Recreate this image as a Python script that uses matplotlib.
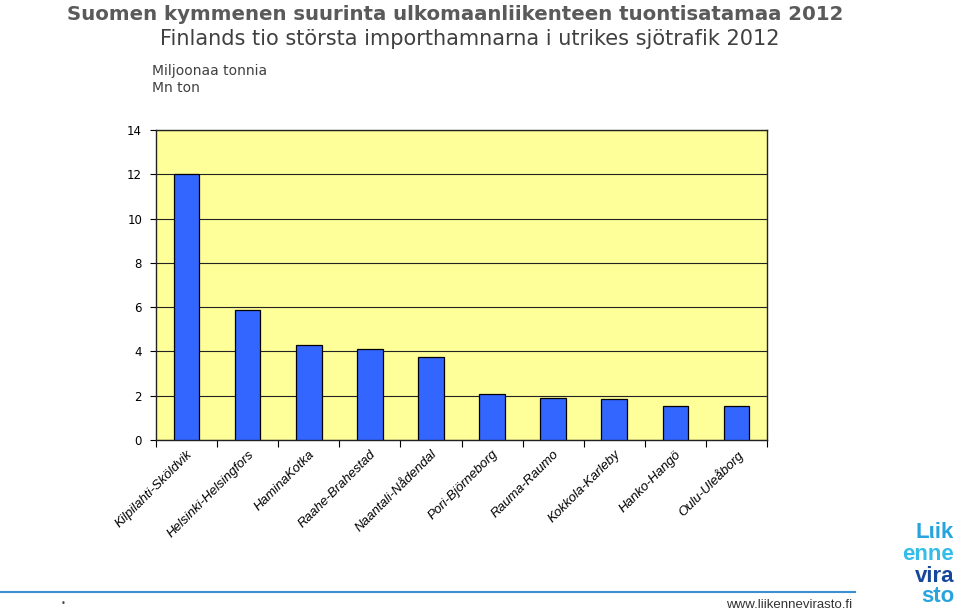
import matplotlib.pyplot as plt
import numpy as np

# ------------------------------------------------------------
# Data
# ------------------------------------------------------------

ports = [
    "Kilpilahti-Sköldvik",
    "Helsinki-Helsingfors",
    "HaminaKotka",
    "Raahe-Brahestad",
    "Naantali-Nådendal",
    "Pori-Björneborg",
    "Rauma-Raumo",
    "Kokkola-Karleby",
    "Hanko-Hangö",
    "Oulu-Uleåborg",
]
imports_mt = [12.0, 5.85, 4.3, 4.1, 3.75, 2.07, 1.9, 1.85, 1.53, 1.53]
y_ticks = [0, 2, 4, 6, 8, 10, 12, 14]

# ------------------------------------------------------------
# Figure
# ------------------------------------------------------------

fig = plt.figure(figsize=(9.6, 6.12), dpi=100)
ax = fig.add_axes([156 / 960, 1 - 440 / 612, (767 - 156) / 960, (440 - 130) / 612])

x = np.arange(len(ports))
ax.set_facecolor("#ffff99")
ax.bar(x, imports_mt, width=0.42, color="#3366ff", edgecolor="black",
       linewidth=0.9, zorder=3)

ax.set_xlim(-0.5, len(ports) - 0.5)
ax.set_ylim(0, 14)
ax.set_yticks(y_ticks)
ax.set_yticklabels([str(v) for v in y_ticks], fontsize=8.5, family="DejaVu Sans")
ax.yaxis.grid(True, color="#222222", linewidth=0.8, zorder=1)
ax.tick_params(axis="y", length=4, width=0.8, pad=6)

# category labels, ticks between categories
ax.set_xticks(x)
ax.set_xticklabels(ports, rotation=45, ha="right", rotation_mode="anchor",
                   fontsize=9.5, family="Liberation Sans", style="italic")
ax.tick_params(axis="x", length=0, pad=6)
ax.set_xticks(np.arange(-0.5, len(ports)), minor=True)
ax.tick_params(axis="x", which="minor", length=5, width=0.8, direction="out")

for s in ax.spines.values():
    s.set_color("#222222")
    s.set_linewidth(1.0)

# ------------------------------------------------------------
# Titles and footer
# ------------------------------------------------------------

fig.text(455 / 960, 1 - 14 / 612, "Suomen kymmenen suurinta ulkomaanliikenteen tuontisatamaa 2012",
         ha="center", va="center", fontsize=14.2, fontweight="bold",
         color="#5a5a5a", family="DejaVu Sans")
fig.text(470 / 960, 1 - 39 / 612, "Finlands tio största importhamnarna i utrikes sjötrafik 2012",
         ha="center", va="center", fontsize=15, color="#404040",
         family="DejaVu Sans")
fig.text(152 / 960, 1 - 71 / 612, "Miljoonaa tonnia", ha="left", va="center",
         fontsize=10, color="#404040", family="DejaVu Sans")
fig.text(152 / 960, 1 - 88 / 612, "Mn ton", ha="left", va="center",
         fontsize=10, color="#404040", family="DejaVu Sans")

fig.add_artist(plt.Line2D([0, 855 / 960], [1 - 592 / 612] * 2, color="#3a8fd0",
                          linewidth=1.5))
fig.text(63 / 960, 1 - 604 / 612, "•", ha="center", va="center", fontsize=6,
         color="#444444")
fig.text(852 / 960, 1 - 605 / 612, "www.liikennevirasto.fi", ha="right",
         va="center", fontsize=9.5, color="#333333", family="Liberation Sans")

logo = [("Lιik", "#27a4de", 532), ("enne", "#33bde8", 554),
        ("vira", "#17479a", 576), ("sto", "#27a4de", 597)]
for word, col, ypx in logo:
    fig.text(954 / 960, 1 - ypx / 612, word, ha="right", va="center",
             fontsize=16, fontweight="bold", color=col, family="Liberation Sans")

fig.savefig("out.png", dpi=100)
